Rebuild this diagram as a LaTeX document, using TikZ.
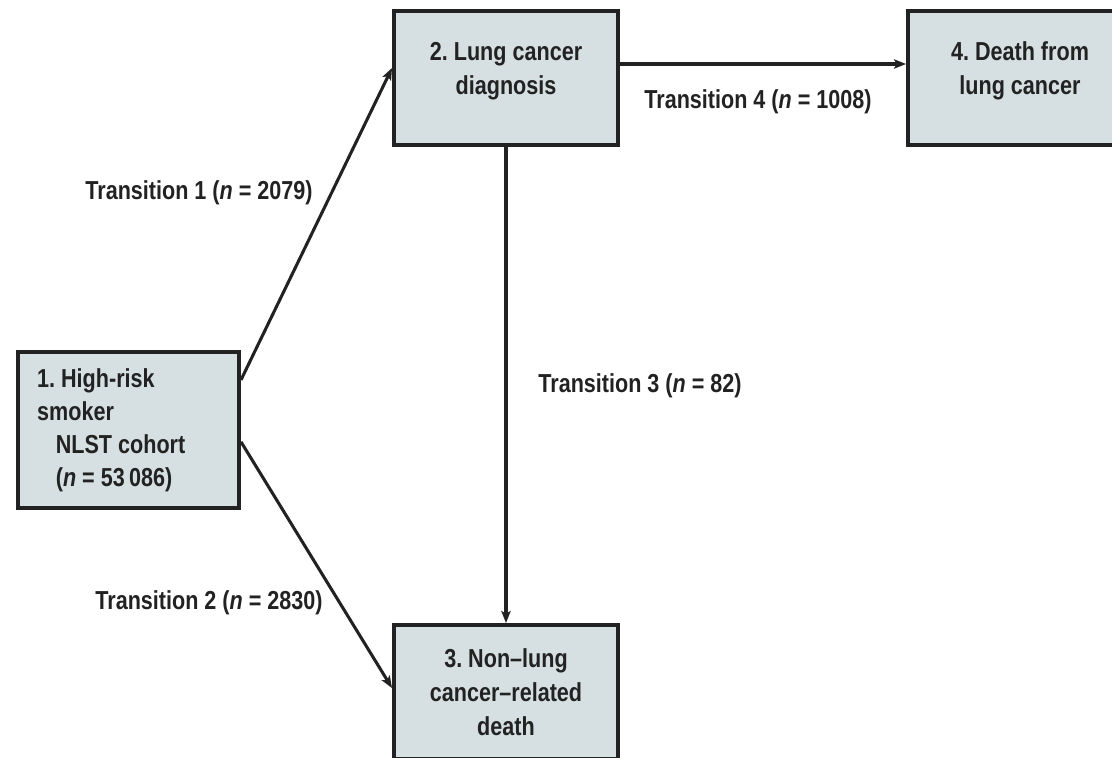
\documentclass[tikz,border=0pt]{standalone}
\usepackage{fontspec}
\setmainfont{Liberation Sans}[FakeStretch=0.83]
\usetikzlibrary{arrows.meta}
\definecolor{boxfill}{HTML}{D6DFE1}
\definecolor{boxline}{HTML}{222222}
\frenchspacing

\begin{document}
\begin{tikzpicture}[x=0.75pt,y=-0.75pt,
  font=\bfseries\fontsize{19.5}{25.5}\selectfont,
  stage/.style={draw=boxline,fill=boxfill,line width=3pt,minimum width=168pt,minimum height=100.5pt,align=center,inner sep=0pt,text=boxline},
  trans/.style={draw=boxline,line width=2.3pt,-{Stealth[length=9pt,width=7pt,inset=2pt]}},
  translabel/.style={text=boxline,inner sep=0pt}]
\clip (0,0) rectangle (1112,757);
\fill[white] (0,0) rectangle (1112,757);

\node[stage,minimum width=165.75pt,minimum height=117pt,align=flush left,text width=137pt,font=\bfseries\fontsize{19.5}{24.75}\selectfont] (smoker) at (128.5,430) {1. High-risk\\smoker\\\hspace*{14pt}NLST cohort\\\hspace*{14pt}(\textit{n} = 53\,086)};
\node[stage,text depth=14pt] (diagnosis) at (506,78) {2. Lung cancer\\diagnosis};
\node[stage] (other) at (506,692) {3. Non--lung\\cancer--related\\death};
\node[stage,text depth=14pt] (lcdeath) at (1020,77.5) {4. Death from\\lung cancer};

\draw[trans] (smoker.24) -- (diagnosis.175);
\draw[trans] (smoker.-6) -- (other.178.5);
\draw[trans] (diagnosis.south) -- (other.north);
\draw[trans] (diagnosis.7.6) -- (diagnosis.7.6 -| lcdeath.west);

\node[translabel] (t1) at (199,193) {Transition 1 (\textit{n} = 2079)};
\node[translabel] (t2) at (209,603) {Transition 2 (\textit{n} = 2830)};
\node[translabel] (t3) at (640,386) {Transition 3 (\textit{n} = 82)};
\node[translabel] (t4) at (758,102) {Transition 4 (\textit{n} = 1008)};
\end{tikzpicture}
\end{document}
